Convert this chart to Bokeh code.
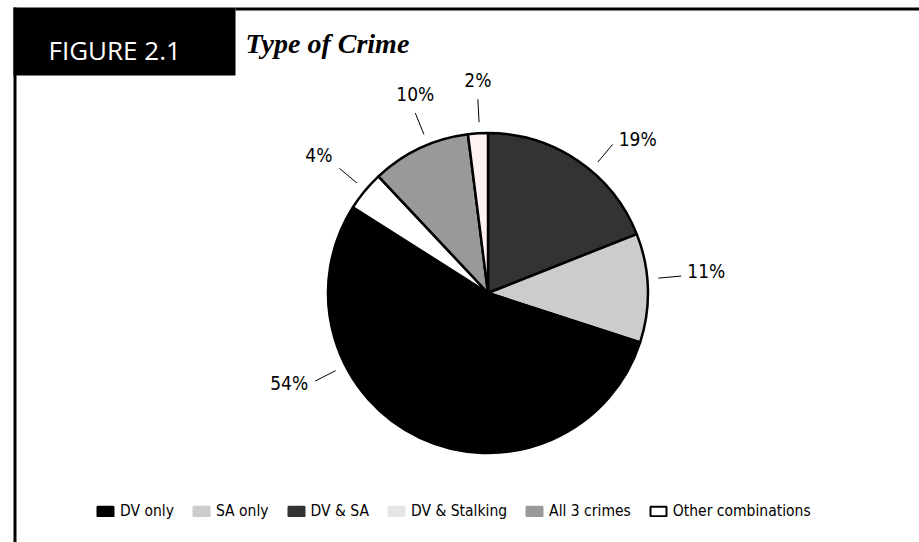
import math
from bokeh.plotting import figure
from bokeh.models import ColumnDataSource, Range1d, Legend, LegendItem
from bokeh.core.properties import value
from bokeh.embed import file_html
from bokeh.resources import INLINE

# ---------------- data ----------------
categories = ["DV only", "SA only", "DV & SA", "DV & Stalking", "All 3 crimes", "Other combinations"]
shares = [54, 11, 19, 2, 10, 4]                      # percent
pie_order = ["DV & SA", "SA only", "DV only", "Other combinations", "All 3 crimes", "DV & Stalking"]
title = "Type of Crime"
figure_tag = "FIGURE 2.1"

# ---------------- style / layout ----------------
W, H = 919, 542
slice_colors = {"DV only": "#000000", "SA only": "#cccccc", "DV & SA": "#333333",
                "DV & Stalking": "#fff2f2", "All 3 crimes": "#999999", "Other combinations": "#ffffff"}
swatch_colors = {"DV only": "#000000", "SA only": "#cccccc", "DV & SA": "#333333",
                 "DV & Stalking": "#e5e5e5", "All 3 crimes": "#999999", "Other combinations": "#ffffff"}
swatch_lines = {"Other combinations": "#000000"}
label_angle = {"DV & SA": 40, "SA only": 85, "DV only": 243,
               "Other combinations": 310, "All 3 crimes": 338, "DV & Stalking": 357}
CX, CY_PX, R = 487.5, 292.5, 160
COND = "DejaVu Sans Condensed"


def yy(ypx):
    return H - ypx


p = figure(width=W, height=H, x_range=Range1d(0, W), y_range=Range1d(0, H),
           x_axis_type=None, y_axis_type=None, toolbar_location=None,
           output_backend="svg", min_border=0)
p.grid.visible = False
p.outline_line_color = None
p.background_fill_color = "white"
p.border_fill_color = "white"

# header frame
p.quad(left=[13], right=[235], top=[yy(7)], bottom=[yy(75)], fill_color="black", line_color=None)
p.quad(left=[235], right=[W], top=[yy(7)], bottom=[yy(10)], fill_color="black", line_color=None)
p.quad(left=[13], right=[16], top=[yy(7)], bottom=[0], fill_color="black", line_color=None)
p.text(x=[48], y=[yy(49)], text=[figure_tag], text_color="white",
       text_font=value("Open Sans"), text_font_size="26px", text_baseline="alphabetic")
p.text(x=[245], y=[yy(43)], text=[title], text_color="black",
       text_font=value("Liberation Serif"), text_font_style="bold italic",
       text_font_size="28px", text_baseline="alphabetic")

# pie
share_of = dict(zip(categories, shares))
total = float(sum(shares))
starts, ends, cols, names = [], [], [], []
cum = 0.0
for c in pie_order:
    a0 = math.pi / 2 - 2 * math.pi * cum / total
    cum += share_of[c]
    a1 = math.pi / 2 - 2 * math.pi * cum / total
    starts.append(a1)
    ends.append(a0)
    cols.append(slice_colors[c])
    names.append(c)
src = ColumnDataSource(dict(start=starts, end=ends, color=cols, name=names))
p.wedge(x=CX, y=yy(CY_PX), radius=R, start_angle="start", end_angle="end",
        fill_color="color", line_color="black", line_width=2.5, source=src)

# labels with leader lines
x0s, y0s, x1s, y1s = [], [], [], []
lab = {"left": ([], [], []), "right": ([], [], []), "center": ([], [], [])}
for c in pie_order:
    a = math.radians(label_angle[c])
    s, co = math.sin(a), math.cos(a)
    x0s.append(CX + 171 * s); y0s.append(yy(CY_PX) + 171 * co)
    ex, ey = CX + 194 * s, yy(CY_PX) + 194 * co
    x1s.append(ex); y1s.append(ey)
    txt = f"{share_of[c]}%"
    if s >= 0.5:
        key, lx, ly = "left", ex + 6, ey + 5
    elif s <= -0.5:
        key, lx, ly = "right", ex - 7, ey + 4 + 14 * co
    else:
        key, lx, ly = "center", ex, ey + 19
    lab[key][0].append(lx); lab[key][1].append(ly); lab[key][2].append(txt)
p.segment(x0=x0s, y0=y0s, x1=x1s, y1=y1s, line_color="black", line_width=1)
for align, (lx, ly, lt) in lab.items():
    if lx:
        p.text(x=lx, y=ly, text=lt, text_align=align, text_baseline="middle",
               text_font=value(COND), text_font_size="19px", text_color="black")

# legend
nan = float("nan")
lsrc = ColumnDataSource(dict(l=[nan] * 6, r=[nan] * 6, t=[nan] * 6, b=[nan] * 6,
                             fc=[swatch_colors[c] for c in categories],
                             lc=[swatch_lines.get(c, swatch_colors[c]) for c in categories]))
lr = p.quad(left="l", right="r", top="t", bottom="b", fill_color="fc", line_color="lc",
            line_width=2, source=lsrc)
items = [LegendItem(label=c, renderers=[lr], index=i) for i, c in enumerate(categories)]
legend = Legend(items=items, orientation="horizontal", location=(95, 21),
                glyph_width=20, glyph_height=12, label_standoff=5, spacing=17,
                padding=0, margin=0, border_line_color=None, background_fill_alpha=0,
                label_text_font=COND, label_text_font_size="15.5px",
                label_text_color="black", label_height=20)
p.add_layout(legend)

open("out.html", "w").write(file_html(p, INLINE))
